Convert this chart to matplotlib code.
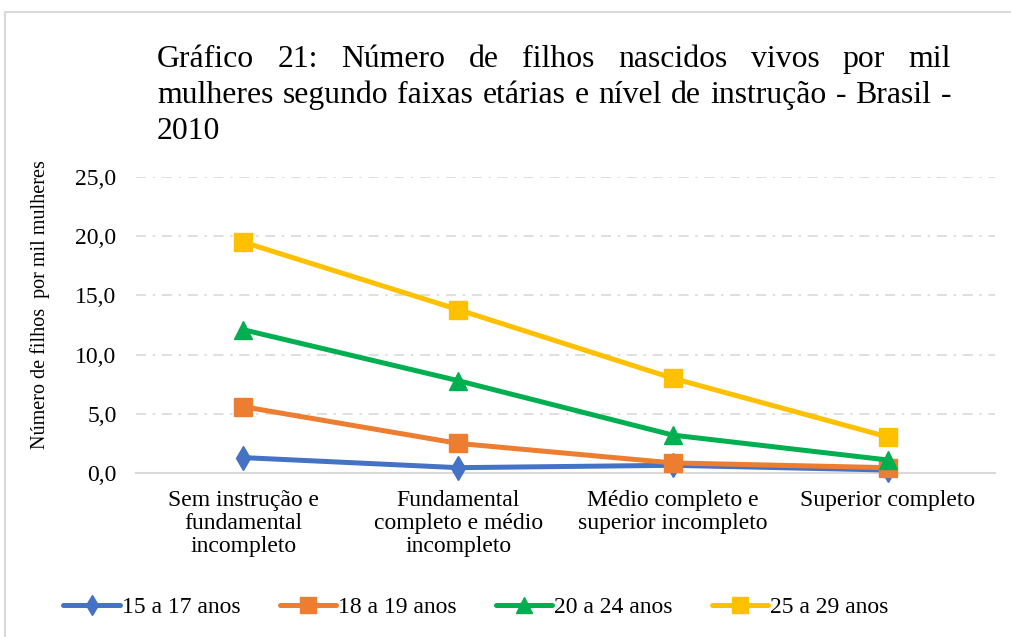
import matplotlib
matplotlib.use("Agg")
import matplotlib.pyplot as plt
from matplotlib.lines import Line2D
from matplotlib.patches import Rectangle

plt.rcParams['font.family'] = ['Liberation Serif', 'DejaVu Serif']

categories = ["Sem instrução e\nfundamental\nincompleto",
              "Fundamental\ncompleto e médio\nincompleto",
              "Médio completo e\nsuperior incompleto",
              "Superior completo"]
series_names = ["15 a 17 anos", "18 a 19 anos", "20 a 24 anos", "25 a 29 anos"]
s15_17 = [1.3, 0.45, 0.65, 0.25]
s18_19 = [5.6, 2.5, 0.85, 0.45]
s20_24 = [12.1, 7.8, 3.2, 1.1]
s25_29 = [19.5, 13.8, 8.0, 3.05]
yticks = [0, 5, 10, 15, 20, 25]
ytick_labels = ["0,0", "5,0", "10,0", "15,0", "20,0", "25,0"]
title_lines = ["Gráfico 21: Número de filhos nascidos vivos por mil",
               "mulheres segundo faixas etárias e nível de instrução  - Brasil -",
               "2010"]
ylabel = "Número de filhos  por mil mulheres"

colors = ["#4472C4", "#ED7D31", "#00B050", "#FFC000"]
markers = ["d", "s", "^", "s"]
msizes = [12, 13, 13, 13]

W, H = 1011, 637
fig = plt.figure(figsize=(W / 100, H / 100), dpi=100)
fig.patch.set_facecolor("white")

# outer frame
fig.patches.append(Rectangle((5 / W, -0.1), 1.2, 1 - 12 / H + 0.1, transform=fig.transFigure,
                             fill=False, edgecolor="#d9d9d9", linewidth=1.5))

ax = fig.add_axes([136 / W, 1 - 473 / H, (995 - 136) / W, (473 - 177) / H])
x = list(range(len(categories)))
for vals, c, m, ms, name in zip([s15_17, s18_19, s20_24, s25_29], colors, markers, msizes, series_names):
    ax.plot(x, vals, color=c, linewidth=3.6, marker=m, markersize=ms, label=name,
            solid_capstyle="round", zorder=3, clip_on=False)

ax.set_xlim(-0.5, len(categories) - 0.5)
ax.set_ylim(0, 25)
ax.set_yticks(yticks)
ax.set_yticklabels(ytick_labels, fontsize=17)
ax.set_xticks(x)
ax.set_xticklabels(categories, fontsize=17, linespacing=1.12, va="top")
ax.tick_params(axis="y", length=0, pad=14)
ax.tick_params(axis="x", length=0, pad=12)
for s in ["top", "right", "left"]:
    ax.spines[s].set_visible(False)
ax.spines["bottom"].set_color("#d9d9d9")
ax.spines["bottom"].set_linewidth(1.5)
ax.yaxis.grid(True, color="#d9d9d9", linewidth=1.2, linestyle=(0, (6, 4, 1.5, 4)))
ax.set_axisbelow(True)
ax.set_ylabel(ylabel, fontsize=14.5)
ax.yaxis.set_label_coords((50 - 136) / (995 - 136), (473 - 305) / (473 - 177))

# justified title
renderer = fig.canvas.get_renderer()
tx0, tx1 = 157, 951
baselines = [67, 103, 139]
probe = fig.text(0, 0, title_lines[1], fontsize=20)
fs_title = 20 * (tx1 - tx0) / probe.get_window_extent(renderer).width * 0.995
probe.remove()
for i, line in enumerate(title_lines):
    yb = 1 - baselines[i] / H
    if i == len(title_lines) - 1:
        fig.text(tx0 / W, yb, line, fontsize=fs_title, va="baseline", ha="left")
        continue
    words = line.split()
    arts = [fig.text(0, yb, w_, fontsize=fs_title, va="baseline", ha="left") for w_ in words]
    widths = [a.get_window_extent(renderer).width for a in arts]
    gap = (tx1 - tx0 - sum(widths)) / (len(words) - 1)
    pos = tx0
    for a, wd in zip(arts, widths):
        a.set_x(pos / W)
        pos += wd + gap

handles = [Line2D([0], [0], color=c, linewidth=3.6, marker=m, markersize=ms * 0.85,
                  solid_capstyle="round")
           for c, m, ms in zip(colors, markers, msizes)]
fig.legend(handles, series_names, loc="center", bbox_to_anchor=(476 / W, 1 - 607 / H),
           ncol=4, frameon=False, fontsize=17, handlelength=2.4, handletextpad=0.08,
           columnspacing=1.65, borderpad=0, borderaxespad=0)

fig.savefig("out.png", dpi=100)
